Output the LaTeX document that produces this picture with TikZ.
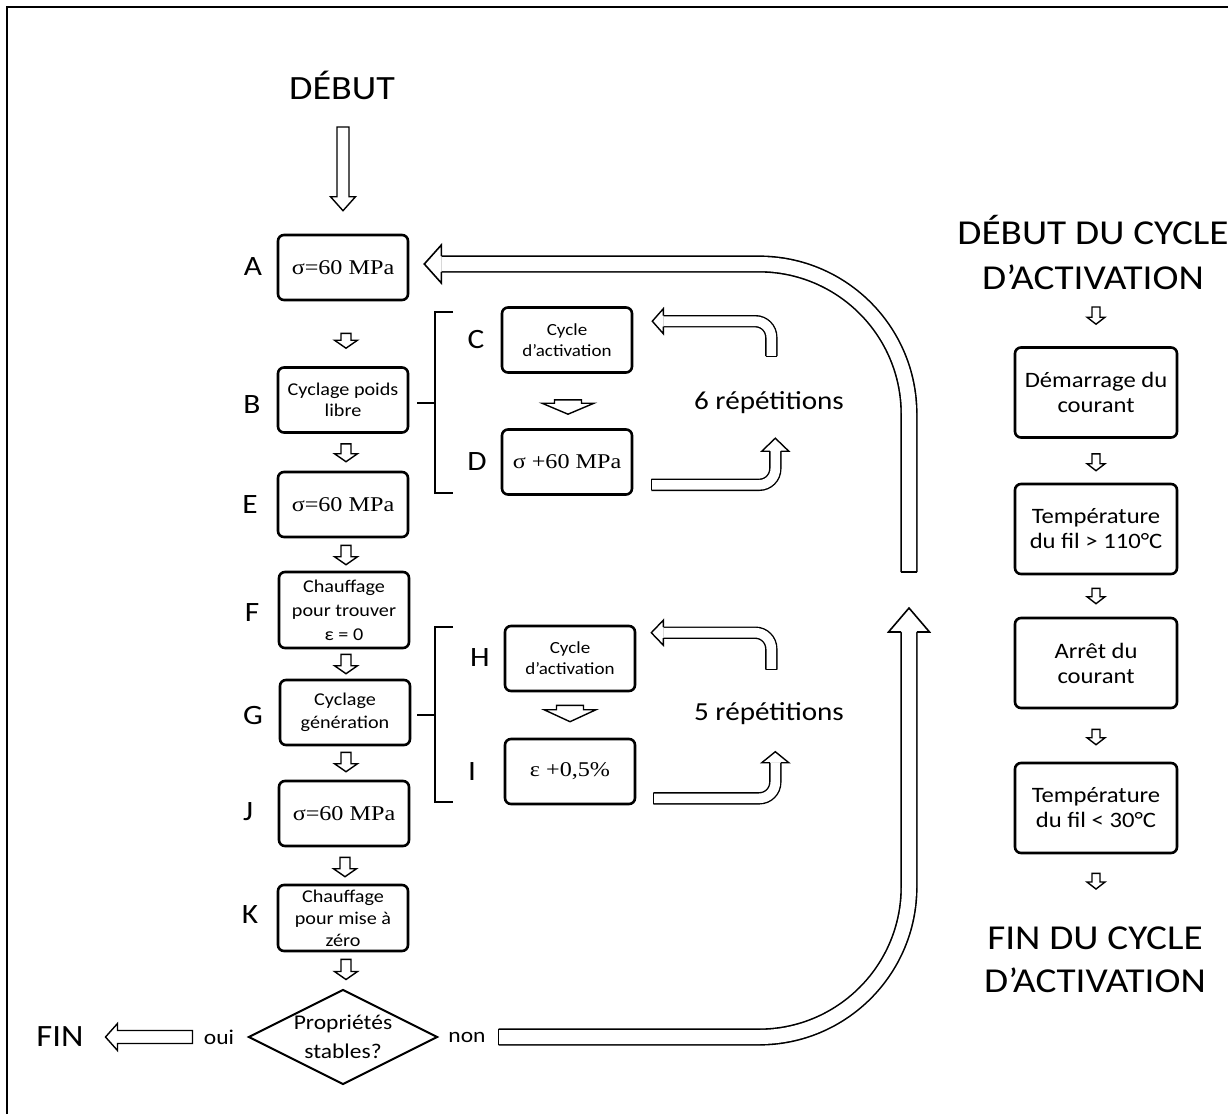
\documentclass[tikz,border=0pt]{standalone}
\usepackage{fontspec}
\setmainfont{Carlito}[FakeStretch=1.12]
\newfontfamily\serf{Liberation Serif}[FakeStretch=1.15]
\usetikzlibrary{calc,shapes.geometric}
% hollow straight arrows: from, to, shaft half width, head half width, head length
\newcommand\hdown[6][hol]{\draw[#1] let \p1=(#2), \p2=(#3) in
  (\x1-#4pt,\y1) -- (\x1+#4pt,\y1) -- (\x1+#4pt,\y2+#6pt) -- (\x1+#5pt,\y2+#6pt) -- (\x1,\y2)
  -- (\x1-#5pt,\y2+#6pt) -- (\x1-#4pt,\y2+#6pt) -- cycle;}
\newcommand\hleft[6][hol]{\draw[#1] let \p1=(#2), \p2=(#3) in
  (\x1,\y1+#4pt) -- (\x1,\y1-#4pt) -- (\x2+#6pt,\y1-#4pt) -- (\x2+#6pt,\y1-#5pt) -- (\x2,\y1)
  -- (\x2+#6pt,\y1+#5pt) -- (\x2+#6pt,\y1+#4pt) -- cycle;}
% heads at the end of double lines: base centre, half shaft, half head, length
\newcommand\headleft[5][hol]{\draw[#1] let \p1=(#2) in
  (\x1,\y1+#3pt) -- (\x1,\y1+#4pt) -- (\x1-#5pt,\y1) -- (\x1,\y1-#4pt) -- (\x1,\y1-#3pt);}
\newcommand\headup[5][hol]{\draw[#1] let \p1=(#2) in
  (\x1-#3pt,\y1) -- (\x1-#4pt,\y1) -- (\x1,\y1+#5pt) -- (\x1+#4pt,\y1) -- (\x1+#3pt,\y1);}
\newcommand\capv[3][hol]{\draw[#1] let \p1=(#2) in (\x1-#3pt,\y1) -- (\x1+#3pt,\y1);}
\newcommand\caph[3][hol]{\draw[#1] let \p1=(#2) in (\x1,\y1-#3pt) -- (\x1,\y1+#3pt);}
\begin{document}
\begin{tikzpicture}[x=1pt,y=-1pt,
  box/.style={draw,line width=2.6pt,rounded corners=6pt,minimum width=130pt,minimum height=65pt,
    inner sep=0pt,align=center,font=\fontsize{18}{21}\selectfont},
  rbox/.style={box,minimum width=162pt,minimum height=90pt,font=\fontsize{22}{25}\selectfont},
  sbox/.style={box,font=\serf\fontsize{21}{24}\selectfont},
  lab/.style={inner sep=0pt,font=\fontsize{28}{30}\selectfont},
  title/.style={inner sep=0pt,font=\fontsize{35}{40}\selectfont},
  txt/.style={inner sep=0pt,font=\fontsize{21}{24}\selectfont},
  hol/.style={draw,line width=1.4pt,fill=white,line join=miter},
  holb/.style={draw,line width=1.6pt,fill=white,line join=miter},
  dbls/.style={draw,double,double distance=9.6pt,line width=1.4pt,rounded corners=16pt},
  dblb/.style={draw,double,double distance=14pt,line width=1.6pt,rounded corners=150pt},
  brk/.style={draw,line width=2pt}]
\useasboundingbox (0,0) rectangle (1228,1114);
% frame
\draw[line width=2.5pt] (7,1114) -- (7,7) -- (1228,7);

% ---------- main column ----------
\node[title,font=\fontsize{34}{40}\selectfont] (debut) at (342,85) {DÉBUT};
\node[sbox] (A) at (343,267.5) {σ=60 MPa};
\node[box] (B) at (343,400) {Cyclage poids\\libre};
\node[sbox] (E) at (343,504.5) {σ=60 MPa};
\node[box,minimum height=76pt,font=\fontsize{18}{24}\selectfont] (F) at (344,610) {Chauffage\\pour trouver\\ε = 0};
\node[box,font=\fontsize{18}{23}\selectfont] (G) at (345,712.5) {Cyclage\\génération};
\node[sbox] (J) at (344,813.5) {σ=60 MPa};
\node[box,minimum height=66pt,font=\fontsize{18}{22}\selectfont] (K) at (343,918) {Chauffage\\pour mise à\\zéro};
\node[draw,diamond,line width=2pt,minimum width=189pt,minimum height=95pt,inner sep=0pt] (Q) at (343,1037) {};
\node[align=center,inner sep=0pt,font=\fontsize{21}{29}\selectfont] (Qt) at (Q.center) {Propriétés\\stables?};

\node[lab] (lA) at (253,267) {A};
\node[lab] (lB) at (252,405) {B};
\node[lab] (lE) at (250,505) {E};
\node[lab] (lF) at (252,613) {F};
\node[lab] (lG) at (253,715) {G};
\node[lab] (lJ) at (248,812) {J};
\node[lab] (lK) at (250,915) {K};

\hdown{$(debut.center)+(1,42)$}{$(A.north)+(0,-23)$}{6}{12.5}{14}
\hdown{$(A.south)+(3,32)$}{$(B.north)+(0,-18)$}{5}{11.5}{8}
\hdown{$(B.south)+(3,10)$}{$(E.north)+(0,-9)$}{5}{11.5}{8}
\hdown{$(E.south)+(3,7)$}{$(F.north)+(0,-6)$}{5}{11.5}{8}
\hdown{$(F.south)+(2,5)$}{$(G.north)+(0,-5)$}{5}{11.5}{8}
\hdown{$(G.south)+(1,6)$}{$(J.north)+(0,-8)$}{5}{11.5}{8}
\hdown{$(J.south)+(1,10)$}{$(K.north)+(0,-7)$}{5}{11.5}{8}
\hdown{$(K.south)+(3,7)$}{$(Q.north)+(0,-9)$}{5}{11.5}{8}

% outcome
\node[txt] (oui) at (219,1037) {oui};
\node[txt] (non) at (467,1037) {non};
\node[inner sep=0pt,font=\fontsize{31}{34}\selectfont] (fin) at (60,1037) {FIN};
\hleft{$(Q.west)+(-55,0)$}{$(Q.west)+(-142,0)$}{6.5}{13.5}{12}

% ---------- inner loops ----------
\node[box,font=\fontsize{17}{21}\selectfont] (C) at (567,340) {Cycle\\d’activation};
\node[sbox] (D) at (567,462) {σ +60 MPa};
\node[box,font=\fontsize{17}{21}\selectfont] (H) at (570,658.5) {Cycle\\d’activation};
\node[sbox] (I) at (570,771.5) {ε +0,5\%};
\node[lab] (lC) at (476,340) {C};
\node[lab] (lD) at (477,462) {D};
\node[lab] (lH) at (480,658) {H};
\node[lab] (lI) at (472,772) {I};

\hdown{$(C.south)+(1,26)$}{$(D.north)+(0,-14)$}{13.5}{26}{11}
\hdown{$(H.south)+(0,13)$}{$(I.north)+(0,-16)$}{13.5}{26}{12}

\draw[brk] (453,312) -- (435,312) -- (435,493) -- (453,493);
\draw[brk] ($(B.east)+(8,3)$) -- (435,403);
\draw[brk] (453,627) -- (435,627) -- (435,802) -- (453,802);
\draw[brk] ($(G.east)+(6,2)$) -- (435,714.5);

\node[inner sep=0pt,font=\fontsize{26}{28}\selectfont] (rep6) at (769,403) {6 répétitions};
\node[inner sep=0pt,font=\fontsize{26}{28}\selectfont] (rep5) at (769,714) {5 répétitions};

% C/D loop
\coordinate (c1) at ($(C.north east)+(138,50)$);
\coordinate (c2) at ($(C.north east)+(30,15)$);
\draw[dbls] (c1) |- (c2);
\capv{c1}{5.5}
\headleft{c2}{5.5}{12.5}{11}
\coordinate (d1) at ($(D.south east)+(18,-11)$);
\coordinate (d2) at ($(D.north east)+(142,23)$);
\draw[dbls] (d1) -| (d2);
\caph{d1}{5.5}
\headup{d2}{5.5}{13.5}{13}
% H/I loop
\coordinate (h1) at ($(H.north east)+(135,45)$);
\coordinate (h2) at ($(H.north east)+(27,8)$);
\draw[dbls] (h1) |- (h2);
\capv{h1}{5.5}
\headleft{h2}{5.5}{12.5}{12}
\coordinate (i1) at ($(I.south east)+(17,-7)$);
\coordinate (i2) at ($(I.north east)+(139,25)$);
\draw[dbls] (i1) -| (i2);
\caph{i1}{5.5}
\headup{i2}{5.5}{13.5}{11}

% ---------- big return loop ----------
\coordinate (n1) at ($(Q.east)+(60,0)$);
\coordinate (up1) at (909,632);
\draw[dblb] (n1) -| (up1);
\caph[holb]{n1}{7.8}
\headup[holb]{up1}{7.8}{20.5}{24}
\coordinate (up2) at (909,572);
\coordinate (a1) at ($(A.east)+(32,-3.5)$);
\draw[dblb] (up2) |- (a1);
\capv[holb]{up2}{7.8}
\headleft[holb]{a1}{7.8}{19}{17}

% ---------- right column ----------
\node[title] (t1) at (1093,230) {DÉBUT DU CYCLE};
\node[title] (t2) at (1093,277) {D’ACTIVATION};
\node[rbox] (R1) at (1096,392.5) {Démarrage du\\courant};
\node[rbox] (R2) at (1096,529) {Température\\du fil > 110°C};
\node[rbox] (R3) at (1096,663) {Arrêt du\\courant};
\node[rbox] (R4) at (1096,808) {Température\\du fil < 30°C};
\node[title] (f1) at (1095,938) {FIN DU CYCLE};
\node[title] (f2) at (1095,980) {D’ACTIVATION};
\hdown{$(t2.center)+(3,30)$}{$(R1.north)+(0,-22)$}{4}{9}{7}
\hdown{$(R1.south)+(0,15)$}{$(R2.north)+(0,-12)$}{4}{9}{7}
\hdown{$(R2.south)+(0,13)$}{$(R3.north)+(0,-13)$}{4}{9}{7}
\hdown{$(R3.south)+(0,20)$}{$(R4.north)+(0,-17)$}{4}{9}{7}
\hdown{$(R4.south)+(0,19)$}{$(f1.center)+(0,-49)$}{4}{9}{7}
\end{tikzpicture}
\end{document}
